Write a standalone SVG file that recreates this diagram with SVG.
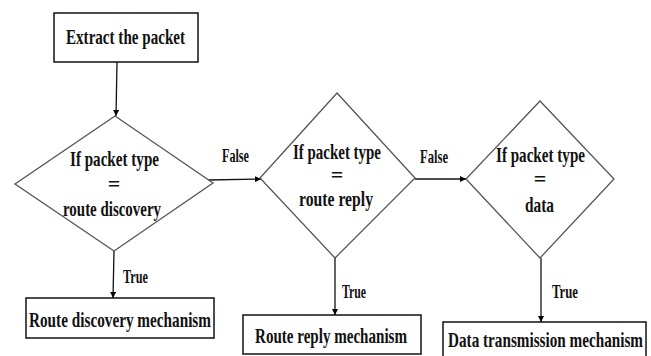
<svg xmlns="http://www.w3.org/2000/svg" width="651" height="356" viewBox="0 0 651 356">
<defs>
<marker id="ah" viewBox="0 0 10 10" refX="10" refY="5" markerWidth="6" markerHeight="6" markerUnits="userSpaceOnUse" orient="auto">
<path d="M0,0 L10,5 L0,10 z" fill="#000"/>
</marker>
<style>
.box{fill:#fff;stroke:#111;stroke-width:1.5}
.dia{fill:#fff;stroke:#555;stroke-width:1.3}
.t{font-family:"Liberation Serif","Times New Roman",serif;font-weight:bold;font-size:22px;fill:#111;text-anchor:middle}
.l{font-family:"Liberation Serif","Times New Roman",serif;font-weight:bold;font-size:18px;fill:#111;text-anchor:middle}
.c{fill:none;stroke:#111;stroke-width:1.3}
</style>
</defs>
<rect width="651" height="356" fill="#fff"/>
<g id="connectors">
<line class="c" x1="117" y1="62" x2="116" y2="116" marker-end="url(#ah)"/>
<line class="c" x1="208" y1="180" x2="261" y2="179" marker-end="url(#ah)"/>
<line class="c" x1="415" y1="179" x2="466" y2="179" marker-end="url(#ah)"/>
<line class="c" x1="114" y1="251" x2="113" y2="298" marker-end="url(#ah)"/>
<line class="c" x1="335" y1="258" x2="335" y2="315" marker-end="url(#ah)"/>
<line class="c" x1="541" y1="258" x2="541" y2="322" marker-end="url(#ah)"/>
<text class="l" x="235.5" y="162" textLength="27" lengthAdjust="spacingAndGlyphs">False</text>
<text class="l" x="434" y="163" textLength="28" lengthAdjust="spacingAndGlyphs">False</text>
<text class="l" x="135.5" y="283" textLength="25" lengthAdjust="spacingAndGlyphs">True</text>
<text class="l" x="354" y="298" textLength="24" lengthAdjust="spacingAndGlyphs">True</text>
<text class="l" x="565" y="298" textLength="26" lengthAdjust="spacingAndGlyphs">True</text>
</g>
<g id="extract">
<rect class="box" x="54" y="13" width="144" height="49"/>
<text class="t" x="125.5" y="44" textLength="119" lengthAdjust="spacingAndGlyphs">Extract the packet</text>
</g>
<g id="decision1">
<polygon class="dia" points="115,116 213,183 114,251 15,184"/>
<text class="t" x="114.5" y="166" textLength="89" lengthAdjust="spacingAndGlyphs">If packet type</text>
<text class="t" x="114" y="191">=</text>
<text class="t" x="112" y="216" textLength="98" lengthAdjust="spacingAndGlyphs">route discovery</text>
</g>
<g id="decision2">
<polygon class="dia" points="337,93 415,178 335,258 260,178"/>
<text class="t" x="337" y="159" textLength="88" lengthAdjust="spacingAndGlyphs">If packet type</text>
<text class="t" x="337" y="182">=</text>
<text class="t" x="336" y="206" textLength="74" lengthAdjust="spacingAndGlyphs">route reply</text>
</g>
<g id="decision3">
<polygon class="dia" points="540,101 614,179 540,258 466,179"/>
<text class="t" x="540.5" y="162" textLength="89" lengthAdjust="spacingAndGlyphs">If packet type</text>
<text class="t" x="540" y="186">=</text>
<text class="t" x="539.5" y="212" textLength="29" lengthAdjust="spacingAndGlyphs">data</text>
</g>
<g id="route-discovery">
<rect class="box" x="26" y="298" width="188" height="40"/>
<text class="t" x="120" y="327" textLength="182" lengthAdjust="spacingAndGlyphs">Route discovery mechanism</text>
</g>
<g id="route-reply">
<rect class="box" x="243" y="315" width="178" height="39"/>
<text class="t" x="331" y="343" textLength="152" lengthAdjust="spacingAndGlyphs">Route reply mechanism</text>
</g>
<g id="data-transmission">
<rect class="box" x="443" y="322" width="203" height="40"/>
<text class="t" x="545.5" y="347" textLength="195" lengthAdjust="spacingAndGlyphs">Data transmission mechanism</text>
</g>
</svg>
